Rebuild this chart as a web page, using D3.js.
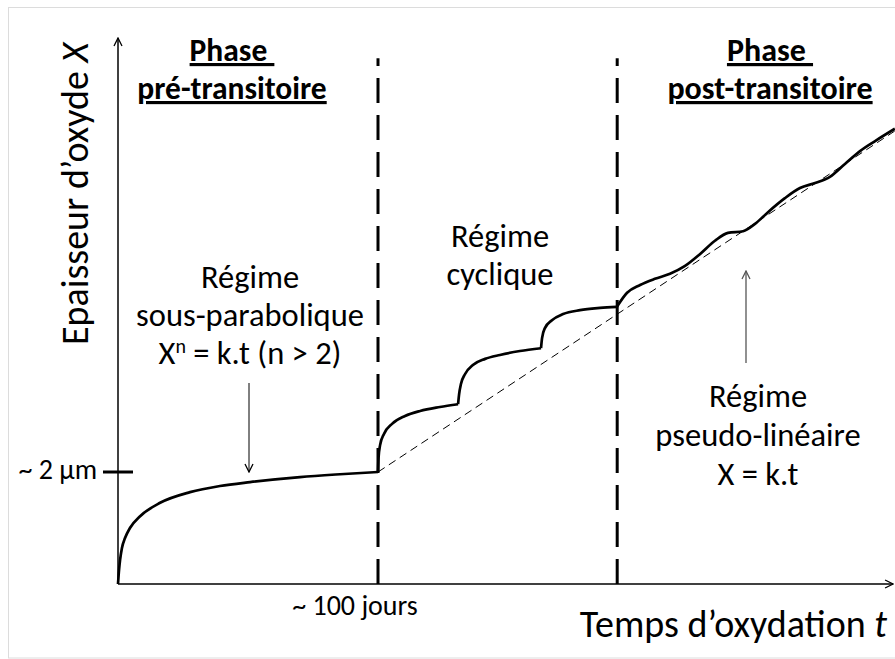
<!DOCTYPE html>
<html>
<head>
<meta charset="utf-8">
<script src="https://cdn.jsdelivr.net/npm/d3@7"></script>
<style>
  body { margin: 0; background: #fff; }
  text { font-family: Carlito, Calibri, Lato, "Noto Sans", sans-serif; fill: #000; }
</style>
</head>
<body>
<div id="chart"></div>
<script>
// time in days, oxide thickness in µm
var preT = [0, 0.4, 0.8, 1.5, 2.7, 4.6, 8.5, 16.2, 27.7, 39.2, 50.8, 70, 85.4, 100];
var preX = [0, 0.25, 0.43, 0.64, 0.82, 1.0, 1.21, 1.45, 1.64, 1.75, 1.82, 1.91, 1.96, 2.0];

var cycle1T = [100, 100.2, 100.8, 102.3, 105.4, 110.4, 116.2, 123.8, 130.8];
var cycle1X = [2.0, 2.25, 2.48, 2.68, 2.86, 3.0, 3.09, 3.16, 3.21];
var cycle2T = [130.8, 131.2, 131.9, 133.5, 136.5, 141.2, 146.9, 154.6, 162.7];
var cycle2X = [3.21, 3.39, 3.57, 3.75, 3.91, 4.02, 4.09, 4.16, 4.21];
var cycle3T = [162.7, 163.1, 164.2, 166.9, 171.2, 177.7, 185.4, 191.9];
var cycle3X = [4.21, 4.39, 4.57, 4.71, 4.82, 4.89, 4.93, 4.95];

var postT = [191.9, 195.8, 200.8, 206.5, 212.3, 218.1, 223.8, 229.6, 234.6, 240.4, 245, 250, 256.5, 262.3, 268.1, 273.8, 279.6, 285.4, 291.2, 298.8];
var postX = [4.95, 5.2, 5.34, 5.45, 5.54, 5.68, 5.89, 6.13, 6.27, 6.3, 6.43, 6.64, 6.89, 7.07, 7.16, 7.27, 7.5, 7.73, 7.91, 8.13];

var linearT = [100, 298.8];
var linearX = [2.0, 8.09];

var transitionT = [100, 192];   // vertical dashed lines
var tickLabels = { x: "~ 100 jours", y: "~ 2 µm" };
var tickT = 100, tickX = 2;

var svgWidth = 895;
var svgHeight = 659;

var svg = d3.select("#chart")
  .append("svg")
  .attr("width", svgWidth)
  .attr("height", svgHeight);

// light frame around the figure
svg.append("rect")
  .attr("x", 8.5).attr("y", 7.5)
  .attr("width", 900).attr("height", 650.5)
  .attr("fill", "none")
  .attr("stroke", "#dcdcdc");

var xScale = d3.scaleLinear().domain([0, 100]).range([118, 378]);
var yScale = d3.scaleLinear().domain([0, 2]).range([584, 472]);

var tMax = 298.1, xMax = 9.75, dashTop = 9.39;

function zip(ts, xs) {
  return ts.map(function(t, i) { return [t, xs[i]]; });
}

var defs = svg.append("defs");
defs.append("marker")
  .attr("id", "open")
  .attr("markerUnits", "userSpaceOnUse")
  .attr("viewBox", "0 0 10 10")
  .attr("refX", 9).attr("refY", 5)
  .attr("markerWidth", 10).attr("markerHeight", 10)
  .attr("orient", "auto")
  .append("path")
  .attr("d", "M1,1 L9,5 L1,9")
  .attr("fill", "none")
  .attr("stroke", "context-stroke")
  .attr("stroke-width", 1.3);

// axes with arrows
svg.append("line")
  .attr("x1", xScale(0)).attr("y1", yScale(0))
  .attr("x2", xScale(0)).attr("y2", yScale(xMax))
  .attr("stroke", "#000").attr("stroke-width", 1.5)
  .attr("marker-end", "url(#open)");

svg.append("line")
  .attr("x1", xScale(0)).attr("y1", yScale(0))
  .attr("x2", xScale(tMax)).attr("y2", yScale(0))
  .attr("stroke", "#000").attr("stroke-width", 1.5)
  .attr("marker-end", "url(#open)");

// tick on y axis
svg.append("line")
  .attr("x1", xScale(0) - 15).attr("x2", xScale(0) + 15)
  .attr("y1", yScale(tickX)).attr("y2", yScale(tickX))
  .attr("stroke", "#000").attr("stroke-width", 3);

svg.append("text")
  .attr("x", 97).attr("y", yScale(tickX) + 7)
  .attr("text-anchor", "end")
  .style("font-size", "28px")
  .text(tickLabels.y);

svg.append("text")
  .attr("x", xScale(tickT) - 23).attr("y", 615)
  .attr("text-anchor", "middle")
  .style("font-size", "28px")
  .text(tickLabels.x);

// transition lines, drawn from the bottom so the dash phase matches
svg.selectAll(".transition")
  .data(transitionT)
  .enter()
  .append("line")
  .attr("class", "transition")
  .attr("x1", d => xScale(d)).attr("x2", d => xScale(d))
  .attr("y1", yScale(0)).attr("y2", yScale(dashTop))
  .attr("stroke", "#000").attr("stroke-width", 3)
  .attr("stroke-dasharray", "25,12");

// linear trend
var line = d3.line()
  .x(d => xScale(d[0]))
  .y(d => yScale(d[1]));

svg.append("path")
  .attr("d", line(zip(linearT, linearX)))
  .attr("fill", "none")
  .attr("stroke", "#000").attr("stroke-width", 1)
  .attr("stroke-dasharray", "8,5");

// kinetics curve
var smooth = d3.line()
  .x(d => xScale(d[0]))
  .y(d => yScale(d[1]))
  .curve(d3.curveMonotoneX);

[zip(preT, preX), zip(cycle1T, cycle1X), zip(cycle2T, cycle2X),
 zip(cycle3T, cycle3X), zip(postT, postX)].forEach(function(seg) {
  svg.append("path")
    .attr("d", smooth(seg))
    .attr("fill", "none")
    .attr("stroke", "#000")
    .attr("stroke-width", 2.7)
    .attr("stroke-linejoin", "round");
});

// annotation arrows
svg.append("line")
  .attr("x1", 249).attr("y1", 383)
  .attr("x2", 249).attr("y2", 472)
  .attr("stroke", "#000").attr("stroke-width", 1)
  .attr("marker-end", "url(#open)");

svg.append("line")
  .attr("x1", 746).attr("y1", 363)
  .attr("x2", 746).attr("y2", 271)
  .attr("stroke", "#555").attr("stroke-width", 1.3)
  .attr("marker-end", "url(#open)");

// multi-line text blocks, one text element each
function block(lines, cx, y0, step, size, bold, underline) {
  var t = svg.append("text")
    .attr("x", cx).attr("y", y0)
    .attr("text-anchor", "middle")
    .style("font-size", size + "px")
    .style("font-weight", bold ? "bold" : "normal")
    .style("white-space", "pre");
  lines.forEach(function(s, i) {
    t.append("tspan")
      .attr("x", cx)
      .attr("dy", i === 0 ? 0 : step)
      .style("text-decoration", underline ? "underline" : "none")
      .text(s);
  });
  return t;
}

block(["Phase\u00a0", "pré-transitoire"], 232, 61, 38, 31.5, true, true);
block(["Phase\u00a0", "post-transitoire"], 770, 61, 38, 32, true, true);
block(["Régime", "cyclique"], 500, 247, 38, 32.5, false, false);
block(["Régime", "pseudo-linéaire", "X = k.t"], 758, 407, 39, 32.5, false, false);

// X^n = k.t (n > 2) as the third line, centred under the other two
var law = block(["Régime", "sous-parabolique", "X"], 250, 288, 38, 32.5, false, false);
law.append("tspan").attr("dy", -11).style("font-size", "20px").text("n");
law.append("tspan").attr("dy", 11).text(" = k.t (n > 2)");
var lawParts = law.selectAll("tspan").filter((d, i) => i >= 2);
var w = lawParts.nodes().reduce((s, n) => s + n.getComputedTextLength(), 0);
lawParts.style("text-anchor", "start");
law.select("tspan:nth-child(3)").attr("x", 250 - w / 2);

// axis titles
var yTitle = svg.append("text")
  .attr("transform", "translate(88,345) rotate(-90)")
  .style("font-size", "38px");
yTitle.append("tspan").text("Epaisseur d’oxyde ");
yTitle.append("tspan").style("font-style", "italic").text("X");

var xTitle = svg.append("text")
  .attr("x", 887).attr("y", 637)
  .attr("text-anchor", "end")
  .style("font-size", "38px");
xTitle.append("tspan").text("Temps d’oxydation ");
xTitle.append("tspan").style("font-style", "italic").text("t");
</script>
</body>
</html>
